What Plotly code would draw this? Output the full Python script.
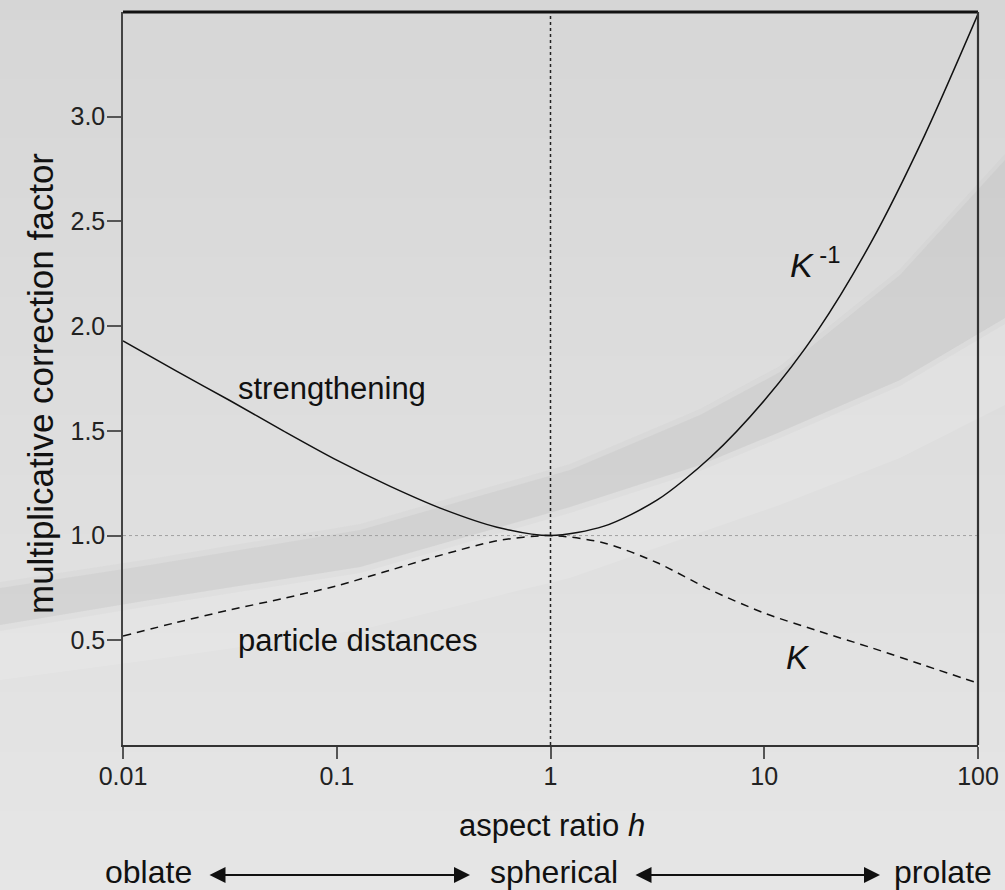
import plotly.graph_objects as go

# ---------------- data ----------------
aspect_ratio = [0.01, 0.0178, 0.0316, 0.0562, 0.1, 0.178, 0.316, 0.562, 1.0,
                1.78, 3.16, 5.62, 10, 17.8, 31.6, 56.2, 100]
strengthening_Kinv = [1.93, 1.785, 1.645, 1.50, 1.36, 1.235, 1.125, 1.04, 1.0,
                      1.045, 1.17, 1.375, 1.645, 1.98, 2.40, 2.91, 3.49]
particle_dist_K = [0.52, 0.585, 0.645, 0.70, 0.76, 0.835, 0.91, 0.975, 1.0,
                   0.965, 0.87, 0.74, 0.63, 0.545, 0.465, 0.38, 0.295]

x_tickvals = [0.01, 0.1, 1, 10, 100]
x_ticktext = ["0.01", "0.1", "1", "10", "100"]
y_tickvals = [0.5, 1.0, 1.5, 2.0, 2.5, 3.0]
y_ticktext = ["0.5", "1.0", "1.5", "2.0", "2.5", "3.0"]

W, H = 1005, 890
L, R, T, B = 123, 27, 12, 145
PW, PH = W - L - R, H - T - B
FONT = "Liberation Sans, Arial, sans-serif"


def P(px, py):
    return (px - L) / PW, (H - B - py) / PH


def path(points):
    s = ""
    for i, (px, py) in enumerate(points):
        x, y = P(px, py)
        s += ("M" if i == 0 else "L") + f"{x:.4f},{y:.4f} "
    return s + "Z"


shapes = []
# vertical background gradient
N = 45
top_c, bot_c = (214, 214, 214), (230, 230, 230)
for i in range(N):
    y0 = H * i / N
    y1 = H * (i + 1) / N + 1
    t = (i + 0.5) / N
    c = tuple(int(round(top_c[k] + (bot_c[k] - top_c[k]) * t)) for k in range(3))
    x0p, y0p = P(0, y1)
    x1p, y1p = P(W, y0)
    shapes.append(dict(type="rect", xref="paper", yref="paper", x0=x0p, x1=x1p,
                       y0=y0p, y1=y1p, fillcolor=f"rgb{c}", line_width=0, layer="below"))

dark_upper = [(0, 588), (150, 565), (360, 530), (570, 470), (700, 415), (780, 372), (900, 275), (1005, 160)]
dark_lower = [(1005, 318), (900, 380), (780, 432), (700, 465), (570, 507), (360, 567), (150, 600), (0, 625)]
light_lower = [(0, 680), (150, 660), (360, 630), (570, 578), (780, 505), (900, 458), (1005, 405)]


def shift(pts, dy):
    return [(x, y + dy) for x, y in pts]


# soft light band under the swoosh
shapes.append(dict(type="path", xref="paper", yref="paper",
                   path=path(list(reversed(dark_lower)) + list(reversed(light_lower))),
                   fillcolor="rgba(255,255,255,0.13)", line_width=0, layer="below"))
# darker swoosh, drawn in two layers for soft edges
shapes.append(dict(type="path", xref="paper", yref="paper",
                   path=path(shift(dark_upper, -6) + shift(dark_lower, 6)),
                   fillcolor="rgba(150,150,150,0.06)", line_width=0, layer="below"))
shapes.append(dict(type="path", xref="paper", yref="paper",
                   path=path(dark_upper + dark_lower),
                   fillcolor="rgba(150,150,150,0.10)", line_width=0, layer="below"))

# frame: thick top, right border
shapes.append(dict(type="line", xref="paper", yref="paper", x0=0, x1=1.0, y0=1, y1=1,
                   line=dict(color="#111", width=3)))
shapes.append(dict(type="line", xref="paper", yref="paper", x0=1, x1=1, y0=0, y1=1,
                   line=dict(color="#333", width=2.2)))

fig = go.Figure()

# reference lines
fig.add_trace(go.Scatter(x=[0.01, 100], y=[1.0, 1.0], mode="lines",
                         line=dict(color="#a0a0a0", width=1, dash="dot"),
                         hoverinfo="skip", showlegend=False))
fig.add_trace(go.Scatter(x=[1, 1], y=[0, 3.5], mode="lines",
                         line=dict(color="#222", width=1.5, dash="dot"),
                         hoverinfo="skip", showlegend=False))

fig.add_trace(go.Scatter(x=aspect_ratio, y=strengthening_Kinv, mode="lines",
                         line=dict(color="#111", width=1.5, shape="spline", smoothing=0.8),
                         name="strengthening / K^-1", showlegend=False))
fig.add_trace(go.Scatter(x=aspect_ratio, y=particle_dist_K, mode="lines",
                         line=dict(color="#111", width=1.5, dash="8px,6px",
                                   shape="spline", smoothing=0.8),
                         name="particle distances / K", showlegend=False))

annotations = []
tf = dict(family=FONT, color="#111")


def txt(text, px, py, size, xanchor="center", yanchor="middle", angle=0):
    x, y = P(px, py)
    annotations.append(dict(text=text, x=x, y=y, xref="paper", yref="paper",
                            xanchor=xanchor, yanchor=yanchor, showarrow=False,
                            textangle=angle, font=dict(size=size, **tf)))


txt("strengthening", 236, 388, 31, xanchor="left")
txt("particle distances", 236, 640, 31, xanchor="left")
txt("<i>K</i><sup> -1</sup>", 788, 262, 34, xanchor="left")
txt("<i>K</i>", 784, 657, 33, xanchor="left")

txt("aspect ratio <i>h</i>", 552, 825, 31)
txt("multiplicative correction factor", 40, 384, 35, angle=-90)

txt("oblate", 148, 872, 32)
txt("spherical", 554, 872, 32)
txt("prolate", 943, 872, 32)


def arrow(px_tail, px_head, py):
    x, y = P(px_head, py)
    annotations.append(dict(x=x, y=y, xref="paper", yref="paper", text="",
                            showarrow=True, ax=px_tail - px_head, ay=0,
                            arrowside="end+start", arrowhead=2, startarrowhead=2,
                            arrowsize=1.6, startarrowsize=1.6, arrowwidth=2,
                            arrowcolor="#111", standoff=0, startstandoff=0))


arrow(208, 470, 875)
arrow(634, 880, 875)

fig.update_layout(
    width=W, height=H,
    margin=dict(l=L, r=R, t=T, b=B, autoexpand=False),
    paper_bgcolor="#dedede",
    plot_bgcolor="rgba(0,0,0,0)",
    shapes=shapes,
    annotations=annotations,
    font=dict(family=FONT, size=25, color="#222"),
)
fig.update_xaxes(type="log", range=[-2, 2], tickvals=x_tickvals, ticktext=x_ticktext,
                 showgrid=False, zeroline=False, showline=True, linecolor="#333",
                 linewidth=1.5, ticks="outside", ticklen=12, tickwidth=1.5, tickcolor="#555",
                 tickfont=dict(size=25, family=FONT, color="#222"), ticklabelstandoff=-4,
                 automargin=False)
fig.update_yaxes(range=[0, 3.5], tickvals=y_tickvals, ticktext=y_ticktext,
                 showgrid=False, zeroline=False, showline=True, linecolor="#444",
                 linewidth=1.5, ticks="outside", ticklen=14, tickwidth=1.5, tickcolor="#555",
                 tickfont=dict(size=25, family=FONT, color="#222"), ticklabelstandoff=-3,
                 automargin=False)

fig.write_html("out.html", config={"displayModeBar": False},
               post_script="document.body.style.margin='0px';document.body.style.overflow='hidden';")
